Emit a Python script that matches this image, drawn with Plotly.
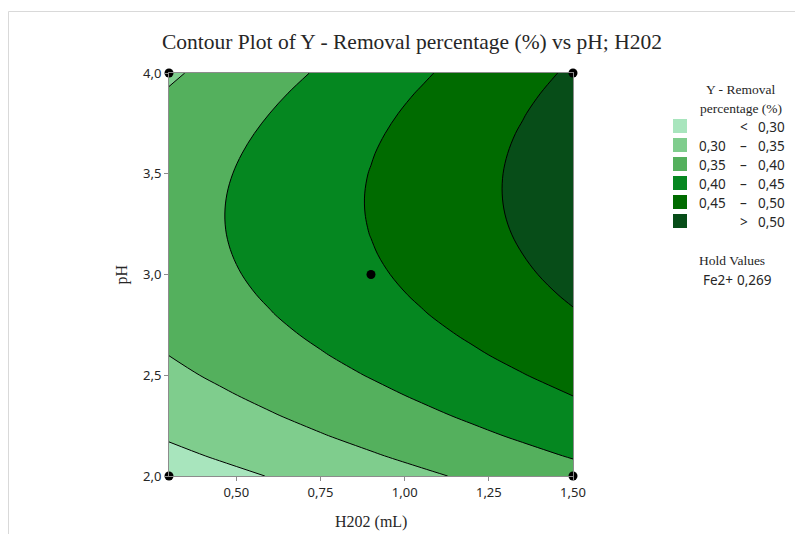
import plotly.graph_objects as go

# ---- data ----
h2o2_ml = [0.30, 0.45, 0.60, 0.75, 0.90, 1.05, 1.20, 1.35, 1.50]
ph = [2.0, 2.1, 2.2, 2.3, 2.4, 2.5, 2.6, 2.7, 2.8, 2.9, 3.0,
      3.1, 3.2, 3.3, 3.4, 3.5, 3.6, 3.7, 3.8, 3.9, 4.0]
removal = [
    [0.2740, 0.2877, 0.3014, 0.3152, 0.3290, 0.3428, 0.3567, 0.3705, 0.3844],
    [0.2899, 0.3040, 0.3180, 0.3321, 0.3462, 0.3604, 0.3745, 0.3887, 0.4029],
    [0.3045, 0.3189, 0.3333, 0.3477, 0.3621, 0.3766, 0.3911, 0.4056, 0.4201],
    [0.3177, 0.3324, 0.3471, 0.3619, 0.3766, 0.3914, 0.4062, 0.4211, 0.4359],
    [0.3296, 0.3446, 0.3597, 0.3748, 0.3898, 0.4050, 0.4201, 0.4353, 0.4504],
    [0.3407, 0.3560, 0.3714, 0.3867, 0.4022, 0.4176, 0.4331, 0.4485, 0.4641],
    [0.3503, 0.3660, 0.3817, 0.3974, 0.4132, 0.4289, 0.4447, 0.4605, 0.4763],
    [0.3586, 0.3746, 0.3906, 0.4067, 0.4227, 0.4388, 0.4549, 0.4711, 0.4872],
    [0.3656, 0.3819, 0.3983, 0.4147, 0.4310, 0.4475, 0.4639, 0.4804, 0.4968],
    [0.3712, 0.3879, 0.4045, 0.4212, 0.4379, 0.4547, 0.4714, 0.4882, 0.5050],
    [0.3755, 0.3925, 0.4095, 0.4265, 0.4435, 0.4606, 0.4777, 0.4948, 0.5119],
    [0.3784, 0.3957, 0.4130, 0.4304, 0.4477, 0.4651, 0.4825, 0.4999, 0.5174],
    [0.3799, 0.3976, 0.4152, 0.4329, 0.4506, 0.4683, 0.4861, 0.5038, 0.5216],
    [0.3802, 0.3981, 0.4161, 0.4341, 0.4521, 0.4701, 0.4882, 0.5063, 0.5244],
    [0.3790, 0.3973, 0.4156, 0.4339, 0.4523, 0.4706, 0.4890, 0.5074, 0.5259],
    [0.3766, 0.3951, 0.4138, 0.4324, 0.4511, 0.4697, 0.4885, 0.5072, 0.5260],
    [0.3726, 0.3916, 0.4105, 0.4295, 0.4485, 0.4675, 0.4866, 0.5056, 0.5247],
    [0.3675, 0.3867, 0.4060, 0.4253, 0.4446, 0.4639, 0.4833, 0.5027, 0.5221],
    [0.3609, 0.3805, 0.4001, 0.4197, 0.4394, 0.4590, 0.4787, 0.4984, 0.5182],
    [0.3531, 0.3729, 0.3929, 0.4128, 0.4328, 0.4527, 0.4728, 0.4928, 0.5129],
    [0.3437, 0.3639, 0.3842, 0.4045, 0.4248, 0.4451, 0.4654, 0.4858, 0.5062],
]
design_h2o2 = [0.3, 0.3, 1.5, 1.5, 0.9]
design_ph = [2.0, 4.0, 2.0, 4.0, 3.0]

levels_start, levels_end, levels_step = 0.30, 0.50, 0.05
band_colors = ['#a8e5bd', '#7fcd8d', '#54b05d', '#058720', '#006b00', '#074d18']
band_left = ['', '0,30', '0,35', '0,40', '0,45', '']
band_mid = ['<', '\u2013', '\u2013', '\u2013', '\u2013', '>']
band_right = ['0,30', '0,35', '0,40', '0,45', '0,50', '0,50']

x_tickvals = [0.50, 0.75, 1.00, 1.25, 1.50]
x_ticktext = ['0,50', '0,75', '1,00', '1,25', '1,50']
y_tickvals = [2.0, 2.5, 3.0, 3.5, 4.0]
y_ticktext = ['2,0', '2,5', '3,0', '3,5', '4,0']

title_text = 'Contour Plot of Y - Removal percentage (%) vs pH; H202'
hold_name, hold_value = 'Fe2+', '0,269'

# ---- figure (page body has an 8px margin) ----
OFF = 8
W, H = 803 - 2 * OFF, 542 - 2 * OFF
L, T = 169 - OFF, 73 - OFF
PW, PH = 404, 403
R, B = W - L - PW, H - T - PH


def px(xs):
    return (xs - OFF - L) / PW


def py(ys):
    return (T + PH - (ys - OFF)) / PH


n = len(band_colors)
colorscale = [[i / (n - 1), c] for i, c in enumerate(band_colors)]

fig = go.Figure()
fig.add_trace(go.Contour(
    x=h2o2_ml, y=ph, z=removal,
    autocontour=False,
    contours=dict(start=levels_start, end=levels_end, size=levels_step, coloring='fill'),
    colorscale=colorscale, showscale=False,
    line=dict(color='black', width=1, smoothing=1.0),
    hoverinfo='skip'))
fig.add_trace(go.Scatter(
    x=design_h2o2, y=design_ph, mode='markers',
    marker=dict(color='black', size=9), cliponaxis=False, hoverinfo='skip'))

SANS = 'Noto Sans'
SERIF = 'Liberation Serif'
TXT = '#262626'
AX = '#8c8c8c'

fig.update_layout(
    width=W, height=H, margin=dict(l=L, r=R, t=T, b=B),
    paper_bgcolor='white', plot_bgcolor='white', showlegend=False,
    xaxis=dict(range=[0.3, 1.5], tickvals=x_tickvals, ticktext=x_ticktext,
               showgrid=False, zeroline=False, showline=True, mirror=True,
               linecolor=AX, linewidth=1, ticks='outside', ticklen=4, tickcolor=AX,
               tickfont=dict(family=SANS, size=13, color=TXT)),
    yaxis=dict(range=[2.0, 4.0], tickvals=y_tickvals, ticktext=y_ticktext,
               showgrid=False, zeroline=False, showline=True, mirror=True,
               linecolor=AX, linewidth=1, ticks='outside', ticklen=4, tickcolor=AX,
               tickfont=dict(family=SANS, size=13, color=TXT)),
)

ann = []
ann.append(dict(x=px(412), y=py(42), text=title_text, font=dict(family=SERIF, size=21.5, color=TXT)))
ann.append(dict(x=0.5, y=py(522), text='H202 (mL)', font=dict(family=SERIF, size=16, color=TXT)))
ann.append(dict(x=px(121), y=0.5, text='pH', textangle=-90, font=dict(family=SERIF, size=16, color=TXT)))
ann.append(dict(x=px(740), y=py(90), text='Y - Removal', font=dict(family=SERIF, size=13.5, color=TXT)))
ann.append(dict(x=px(741), y=py(109), text='percentage (%)', font=dict(family=SERIF, size=13.5, color=TXT)))

shapes = []
row0, step = 126, 19
for i in range(n):
    yc = row0 + i * step
    shapes.append(dict(type='rect', xref='paper', yref='paper',
                       x0=px(673), x1=px(687), y0=py(yc + 7), y1=py(yc - 7),
                       fillcolor=band_colors[i], line=dict(width=0)))
    f = dict(family=SANS, size=13.5, color=TXT)
    if band_left[i]:
        ann.append(dict(x=px(727.5), y=py(yc + 1), text=band_left[i], xanchor='right', font=f))
    ann.append(dict(x=px(743.5), y=py(yc + 1), text=band_mid[i], font=f))
    ann.append(dict(x=px(786.5), y=py(yc + 1), text=band_right[i], xanchor='right', font=f))

ann.append(dict(x=px(732), y=py(261), text='Hold Values', font=dict(family=SERIF, size=13.5, color=TXT)))
ann.append(dict(x=px(700.5), y=py(280), text=hold_name, xanchor='left', font=dict(family=SANS, size=13.5, color=TXT)))
ann.append(dict(x=px(774), y=py(280), text=hold_value, xanchor='right', font=dict(family=SANS, size=13.5, color=TXT)))

for a in ann:
    a.setdefault('xref', 'paper')
    a.setdefault('yref', 'paper')
    a.setdefault('showarrow', False)
    a.setdefault('xanchor', 'center')
    a.setdefault('yanchor', 'middle')

# outer frame (top and left edges visible in reference)
shapes.append(dict(type='line', xref='paper', yref='paper', x0=px(8.5), x1=px(803), y0=py(11.5), y1=py(11.5),
                   line=dict(color='#d9d9d9', width=1)))
shapes.append(dict(type='line', xref='paper', yref='paper', x0=px(8.5), x1=px(8.5), y0=py(11.5), y1=py(542),
                   line=dict(color='#d9d9d9', width=1)))

fig.update_layout(annotations=ann, shapes=shapes)
fig.write_html("out.html")
